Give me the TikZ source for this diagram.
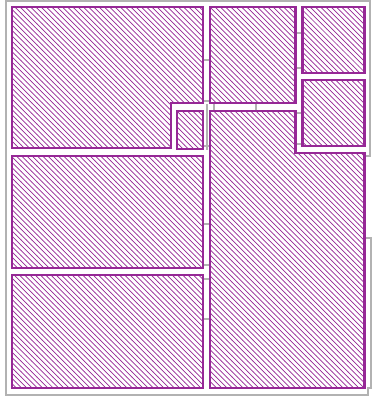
\documentclass[tikz,border=0pt]{standalone}
\usepackage{tikz}
\usetikzlibrary{patterns}
\definecolor{roomcol}{RGB}{150,40,150}
\definecolor{wallcol}{RGB}{178,178,178}
\pgfdeclarelayer{walllayer}
\pgfdeclarelayer{roomlayer}
\pgfsetlayers{walllayer,roomlayer,main}
\tikzstyle{outerwall}=[draw=wallcol, line width=1.1pt]
\tikzstyle{wall}=[draw=wallcol, line width=0.7pt]
\tikzstyle{room}=[draw=roomcol, line width=1.7pt, preaction={fill=white}, pattern=north west lines, pattern color=roomcol]

\begin{document}
\begin{tikzpicture}[x=0.02cm, y=-0.02cm]
			\useasboundingbox (0,0) rectangle (372,398);
			\begin{pgfonlayer}{walllayer}
			\draw [style=outerwall] (6,1) -- (370,1) -- (370,156) -- (365,156) -- (365,238) -- (371,238) -- (371,388) -- (368,388) -- (368,395) -- (6,395) -- cycle;
			\foreach \y in {60,146,224,265,279,319}
				\draw [style=wall] (203,\y) -- (210,\y);
			\foreach \y in {33,68,113,144}
				\draw [style=wall] (295,\y) -- (302,\y);
			\draw [style=wall] (203,101) -- (295,101);
			\draw [style=wall] (214,101) -- (214,111);
			\draw [style=wall] (256,101) -- (256,111);
			\draw [style=wall] (207,104) -- (207,150);
			\end{pgfonlayer}
			\begin{pgfonlayer}{roomlayer}
			\draw [style=room] (12,7) -- (203,7) -- (203,103) -- (171,103) -- (171,148) -- (12,148) -- cycle;
			\draw [style=room] (177,111) rectangle (203,149);
			\draw [style=room] (210,7) rectangle (295,103);
			\draw [style=room] (302,7) rectangle (364,73);
			\draw [style=room] (302,80) rectangle (364,146);
			\draw [style=room] (210,111) -- (295,111) -- (295,153) -- (364,153) -- (364,388) -- (210,388) -- cycle;
			\draw [style=room] (12,156) rectangle (203,268);
			\draw [style=room] (12,275) rectangle (203,388);
			\end{pgfonlayer}
\end{tikzpicture}
\end{document}
